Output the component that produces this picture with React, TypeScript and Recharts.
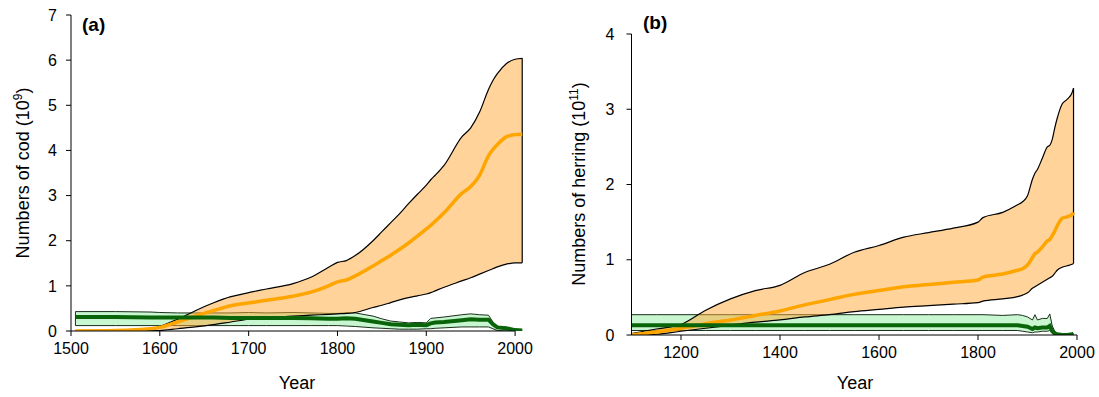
import React from "react";
import { ComposedChart, Area, Line, XAxis, YAxis, ReferenceLine } from "recharts";

const FONT = "'Liberation Sans', Arial, sans-serif";

// (a) cod, numbers in 10^9
const codYears = [1505, 1550, 1590, 1600, 1620, 1640, 1660, 1680, 1700, 1720, 1750, 1770, 1790, 1800, 1810, 1820, 1840, 1850, 1860, 1870, 1880, 1890, 1900, 1905, 1910, 1920, 1940, 1950, 1960, 1970, 1975, 1980, 1990, 2000, 2008];
const codOrangeHigh = [0, 0, 0.01, 0.1, 0.26, 0.45, 0.62, 0.76, 0.85, 0.93, 1.05, 1.19, 1.41, 1.52, 1.56, 1.67, 2.0, 2.2, 2.4, 2.6, 2.82, 3.03, 3.23, 3.35, 3.45, 3.67, 4.3, 4.5, 4.85, 5.35, 5.55, 5.7, 5.92, 6.02, 6.04];
const codOrangeLow = [0, 0, 0, 0.01, 0.05, 0.09, 0.14, 0.2, 0.26, 0.29, 0.33, 0.35, 0.37, 0.38, 0.39, 0.41, 0.52, 0.57, 0.63, 0.69, 0.74, 0.78, 0.82, 0.85, 0.89, 0.97, 1.11, 1.18, 1.26, 1.34, 1.38, 1.42, 1.48, 1.51, 1.51];
const codOrangeMid = [0, 0.01, 0.05, 0.08, 0.2, 0.33, 0.45, 0.56, 0.62, 0.68, 0.77, 0.86, 1.0, 1.09, 1.13, 1.22, 1.44, 1.56, 1.68, 1.81, 1.95, 2.1, 2.26, 2.34, 2.43, 2.62, 3.05, 3.2, 3.45, 3.88, 4.02, 4.13, 4.3, 4.35, 4.36];
const codGreenHigh = [0.43, 0.43, 0.42, 0.41, 0.4, 0.4, 0.4, 0.4, 0.41, 0.4, 0.41, 0.4, 0.39, 0.39, 0.4, 0.4, 0.33, 0.27, 0.22, 0.2, 0.18, 0.19, 0.18, 0.28, 0.29, 0.31, 0.36, 0.38, 0.36, 0.35, 0.2, 0.1, 0.08, 0.03, 0];
const codGreenLow = [0.12, 0.12, 0.12, 0.12, 0.12, 0.12, 0.12, 0.12, 0.12, 0.12, 0.12, 0.12, 0.12, 0.12, 0.11, 0.1, 0.07, 0.06, 0.05, 0.04, 0.04, 0.04, 0.05, 0.05, 0.06, 0.07, 0.09, 0.09, 0.09, 0.09, 0.05, 0.01, 0, 0, 0];
const codGreenMid = [0.31, 0.31, 0.3, 0.3, 0.3, 0.3, 0.3, 0.29, 0.29, 0.29, 0.29, 0.28, 0.27, 0.27, 0.28, 0.27, 0.21, 0.18, 0.15, 0.14, 0.13, 0.14, 0.13, 0.17, 0.19, 0.2, 0.24, 0.26, 0.25, 0.25, 0.15, 0.08, 0.06, 0.02, 0.01];
const codXTicks = [1500, 1600, 1700, 1800, 1900, 2000];
const codYTicks = [0, 1, 2, 3, 4, 5, 6, 7];

// (b) herring, numbers in 10^11
const herYears = [1100, 1150, 1200, 1250, 1300, 1350, 1400, 1450, 1500, 1550, 1600, 1650, 1700, 1750, 1800, 1810, 1850, 1880, 1890, 1900, 1910, 1915, 1920, 1930, 1940, 1945, 1950, 1955, 1960, 1970, 1980, 1990, 1993];
const herOrangeHigh = [0.02, 0.08, 0.14, 0.33, 0.48, 0.59, 0.66, 0.83, 0.94, 1.1, 1.19, 1.3, 1.36, 1.42, 1.5, 1.56, 1.63, 1.73, 1.77, 1.85, 2.07, 2.15, 2.2, 2.35, 2.5, 2.52, 2.6, 2.75, 2.88, 3.07, 3.13, 3.22, 3.28];
const herOrangeLow = [0, 0.01, 0.05, 0.09, 0.13, 0.17, 0.2, 0.24, 0.27, 0.31, 0.34, 0.37, 0.39, 0.41, 0.43, 0.45, 0.48, 0.51, 0.53, 0.56, 0.62, 0.64, 0.66, 0.7, 0.74, 0.76, 0.78, 0.82, 0.86, 0.9, 0.92, 0.94, 0.95];
const herOrangeMid = [0, 0.04, 0.09, 0.15, 0.2, 0.26, 0.32, 0.4, 0.47, 0.54, 0.59, 0.64, 0.67, 0.7, 0.73, 0.77, 0.81, 0.86, 0.88, 0.93, 1.03, 1.08, 1.1, 1.17, 1.25, 1.27, 1.32, 1.38, 1.45, 1.55, 1.57, 1.6, 1.63];
const herGreenHigh = [0.27, 0.27, 0.27, 0.27, 0.27, 0.27, 0.27, 0.27, 0.27, 0.27, 0.27, 0.27, 0.27, 0.27, 0.27, 0.27, 0.26, 0.27, 0.26, 0.24, 0.2, 0.27, 0.2, 0.22, 0.22, 0.28, 0.12, 0.05, 0.02, 0, 0, 0.02, 0.02];
const herGreenLow = [0.06, 0.06, 0.06, 0.06, 0.06, 0.06, 0.06, 0.06, 0.06, 0.06, 0.06, 0.06, 0.06, 0.06, 0.06, 0.06, 0.06, 0.06, 0.05, 0.04, 0.03, 0.04, 0.04, 0.05, 0.05, 0.06, 0.03, 0.01, 0, 0, 0, 0, 0];
const herGreenMid = [0.13, 0.13, 0.13, 0.13, 0.13, 0.13, 0.13, 0.13, 0.13, 0.13, 0.13, 0.13, 0.13, 0.13, 0.13, 0.13, 0.13, 0.13, 0.12, 0.11, 0.08, 0.1, 0.09, 0.1, 0.1, 0.12, 0.05, 0.02, 0.01, 0, 0, 0.01, 0.02];
const herXTicks = [1200, 1400, 1600, 1800, 2000];
const herYTicks = [0, 1, 2, 3, 4];

const buildRows = (years, oLo, oHi, oMid, gLo, gHi, gMid) =>
  years.map((year, i) => ({
    year,
    orange: [oLo[i], oHi[i]],
    orangeMid: oMid[i],
    green: [gLo[i], gHi[i]],
    greenMid: gMid[i],
  }));

const codRows = buildRows(codYears, codOrangeLow, codOrangeHigh, codOrangeMid, codGreenLow, codGreenHigh, codGreenMid);
const herRows = buildRows(herYears, herOrangeLow, herOrangeHigh, herOrangeMid, herGreenLow, herGreenHigh, herGreenMid);

const tickStyle = { fill: "#000", fontSize: 16, fontFamily: FONT };

const Panel = ({ rows, years, oLo, oHi, gLo, gHi, xDomain, xTicks, yDomain, yTicks, width, margin, yAxisWidth, yTickMargin, axisSegment }) => {
  const first = years[0];
  const last = years[years.length - 1];
  return (
    <ComposedChart width={width} height={397} data={rows} margin={margin}>
      <XAxis
        dataKey="year" type="number" domain={xDomain} ticks={xTicks} allowDataOverflow
        stroke="#000" tick={tickStyle} tickSize={5} tickMargin={7} height={30}
        axisLine={!axisSegment}
      />
      <YAxis
        type="number" domain={yDomain} ticks={yTicks} allowDataOverflow
        stroke="#000" tick={tickStyle} tickSize={5} tickMargin={yTickMargin} width={yAxisWidth}
      />
      <Area
        dataKey="green" type="linear" fill="#c2f5cb" fillOpacity={0.9}
        stroke="#1b2f1b" strokeWidth={1} isAnimationActive={false} dot={false}
      />
      <ReferenceLine segment={[{ x: first, y: gLo[0] }, { x: first, y: gHi[0] }]} stroke="#1b2f1b" ifOverflow="visible" />
      <Area
        dataKey="orange" type="monotone" fill="#ffa733" fillOpacity={0.5}
        stroke="#000" strokeWidth={1.2} isAnimationActive={false} dot={false}
      />
      <ReferenceLine segment={[{ x: last, y: oLo[oLo.length - 1] }, { x: last, y: oHi[oHi.length - 1] }]} stroke="#000" strokeWidth={1.2} ifOverflow="visible" />
      <Line dataKey="orangeMid" type="monotone" stroke="#ffa500" strokeWidth={3.5} dot={false} isAnimationActive={false} />
      <Line dataKey="greenMid" type="linear" stroke="#0a640a" strokeWidth={4} dot={false} isAnimationActive={false} />
      {axisSegment && (
        <ReferenceLine segment={[{ x: axisSegment[0], y: yDomain[0] }, { x: axisSegment[1], y: yDomain[0] }]} stroke="#000" ifOverflow="visible" />
      )}
    </ComposedChart>
  );
};

const abs = { position: "absolute", fontFamily: FONT, color: "#000", whiteSpace: "nowrap" } as const;

export default function App() {
  return (
    <div style={{ position: "absolute", left: 0, top: 0, width: 1099, height: 397, background: "#fff" }}>
      <div style={{ position: "absolute", left: 0, top: 0 }}>
        <Panel
          rows={codRows} years={codYears} oLo={codOrangeLow} oHi={codOrangeHigh} gLo={codGreenLow} gHi={codGreenHigh}
          xDomain={[1500, 2010]} xTicks={codXTicks} yDomain={[0, 7]} yTicks={codYTicks}
          width={550} margin={{ top: 15, right: 26, bottom: 36, left: 0 }} yAxisWidth={71} yTickMargin={9}
          axisSegment={[1500, 2000]}
        />
      </div>
      <div style={{ position: "absolute", left: 550, top: 0 }}>
        <Panel
          rows={herRows} years={herYears} oLo={herOrangeLow} oHi={herOrangeHigh} gLo={herGreenLow} gHi={herGreenHigh}
          xDomain={[1100, 2000]} xTicks={herXTicks} yDomain={[0, 4]} yTicks={herYTicks}
          width={549} margin={{ top: 34, right: 22, bottom: 32, left: 0 }} yAxisWidth={81.5} yTickMargin={12}
        />
      </div>

      <div style={{ ...abs, left: 82, top: 14, fontSize: 19, fontWeight: "bold" }}>(a)</div>
      <div style={{ ...abs, left: 643, top: 12, fontSize: 19, fontWeight: "bold" }}>(b)</div>

      <div style={{ ...abs, left: 22, top: 173, fontSize: 18, transform: "translate(-50%, -50%) rotate(-90deg)" }}>
        Numbers of cod (10<sup style={{ fontSize: 12 }}>9</sup>)
      </div>
      <div style={{ ...abs, left: 578, top: 184, fontSize: 18, transform: "translate(-50%, -50%) rotate(-90deg)" }}>
        Numbers of herring (10<sup style={{ fontSize: 12 }}>11</sup>)
      </div>

      <div style={{ ...abs, left: 297, top: 383, fontSize: 18, transform: "translate(-50%, -50%)" }}>Year</div>
      <div style={{ ...abs, left: 855, top: 383, fontSize: 18, transform: "translate(-50%, -50%)" }}>Year</div>
    </div>
  );
}
